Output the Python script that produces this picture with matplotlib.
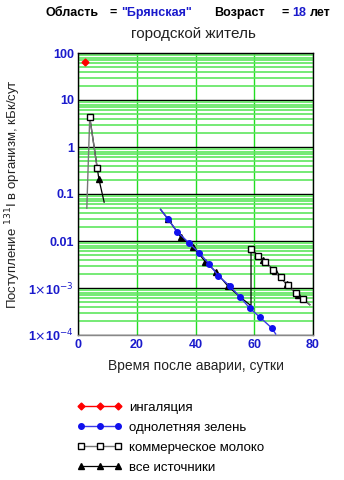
import numpy as np
import matplotlib.pyplot as plt
from matplotlib.ticker import LogLocator, FixedLocator

plt.rcParams['font.family'] = ['Liberation Sans', 'DejaVu Sans']

# inhalation
inh_x = [2.4]
inh_y = [64.0]

# annual greens
veg_x = [28.1, 30.7, 33.8, 37.9, 41.3, 44.7, 47.8, 51.7, 55.1, 58.5, 61.9, 66.0, 67.3]
veg_y = [0.047, 0.029, 0.0158, 0.0089, 0.0056, 0.0032, 0.0018, 0.0011, 6.5e-4, 3.7e-4, 2.4e-4, 1.4e-4, 1.05e-4]

# commercial milk (two pieces, gap = off scale)
milk_x = [3.0, 4.0, 6.5, np.nan, 58.9, 61.2, 63.8, 66.4, 69.0, 71.4, 74.1, 76.6, 78.9]
milk_y = [0.05, 4.3, 0.36, np.nan, 0.0068, 0.0047, 0.0035, 0.0024, 0.0017, 0.00115, 7.9e-4, 5.8e-4, 4.4e-4]

# all sources
all_x = [4.0, 7.1, 8.9, np.nan, 28.1, 30.7, 34.9, 39.1, 43.4, 47.0, 51.0, 55.1, 58.9, 58.9, 62.9, 67.0, 71.0, 75.0, 78.9]
all_y = [4.3, 0.21, 0.067, np.nan, 0.047, 0.029, 0.0123, 0.0076, 0.0036, 0.0022, 0.0011, 6.5e-4, 4.2e-4, 0.0068, 0.0040, 0.0023, 0.0012, 7.0e-4, 4.4e-4]

ytick_vals = [1e-4, 1e-3, 0.01, 0.1, 1, 10, 100]
ytick_labels = [r'1$\times$10$^{-4}$', r'1$\times$10$^{-3}$', '0.01', '0.1', '1', '10', '100']
xtick_vals = [0, 20, 40, 60, 80]

W, H = 344, 480
fig = plt.figure(figsize=(W / 100, H / 100), dpi=100)
ax = fig.add_axes([78 / W, 1 - 335 / H, 235 / W, 282 / H])

ax.set_yscale('log')
ax.set_xlim(0, 80)
ax.set_ylim(1e-4, 100)

green = '#5ee65e'
ax.yaxis.set_minor_locator(LogLocator(base=10, subs=np.arange(2, 10)))
ax.grid(which='minor', axis='y', color=green, lw=1.2)
ax.grid(which='major', axis='y', color='black', lw=1.0)
ax.xaxis.set_major_locator(FixedLocator(xtick_vals))
ax.grid(which='major', axis='x', color='#22dd22', lw=1.0)
ax.set_axisbelow(True)

ax.plot(all_x, all_y, color='black', lw=0.9, marker='^', ms=4, mfc='black', mec='black',
        markevery=[1, 5, 6, 7, 8, 9, 10, 13, 14, 15, 16, 17], label='все источники', zorder=3)
ax.plot(milk_x, milk_y, color='#777777', lw=1.0, marker='s', ms=4, mfc='white', mec='black',
        markevery=[1, 2, 4, 5, 6, 7, 8, 9, 10, 11], label='коммерческое молоко', zorder=4)
ax.plot(veg_x, veg_y, color='#3a3ae8', lw=1.0, marker='o', ms=4, mfc='#1010ee', mec='#1010ee',
        markevery=list(range(1, len(veg_x) - 1)), label='однолетняя зелень', zorder=5)
ax.plot(inh_x, inh_y, color='red', lw=1.0, marker='D', ms=3.5, mfc='red', mec='red',
        label='ингаляция', zorder=6)

ax.set_yticks(ytick_vals)
ax.set_yticklabels(ytick_labels)
ax.tick_params(which='both', length=0)
ax.tick_params(axis='both', labelsize=9, labelcolor='#1a1acc', pad=3)
for lab in ax.get_xticklabels() + ax.get_yticklabels():
    lab.set_fontweight('bold')

for s in ['left', 'top', 'right']:
    ax.spines[s].set_color('black')
ax.spines['bottom'].set_color('#888888')
for s in ax.spines.values():
    s.set_linewidth(1.0)

ax.set_xlabel('Время после аварии, сутки', fontsize=10, color='#222222', labelpad=6)
ax.set_ylabel('Поступление $^{131}$I в организм, кБк/сут', fontsize=9.5, color='#222222', labelpad=4)

# header
hy = 1 - 13 / H
hs = 9
fig.text(45 / W, hy, 'Область', fontsize=hs, fontweight='bold', va='center')
fig.text(110 / W, hy, '=', fontsize=hs, fontweight='bold', va='center')
fig.text(121 / W, hy, '"Брянская"', fontsize=hs, fontweight='bold', color='#1a1acc', va='center')
fig.text(214 / W, hy, 'Возраст', fontsize=hs, fontweight='bold', va='center')
fig.text(281 / W, hy, '=', fontsize=hs, fontweight='bold', va='center')
fig.text(292 / W, hy, '18', fontsize=hs, fontweight='bold', color='#1a1acc', va='center')
fig.text(310 / W, hy, 'лет', fontsize=hs, fontweight='bold', va='center')
fig.text(193 / W, 1 - 34 / H, 'городской житель', fontsize=11, ha='center', va='center', color='#222222')

handles, labels = ax.get_legend_handles_labels()
order = [3, 2, 1, 0]
fig.legend([handles[i] for i in order], [labels[i] for i in order],
           loc='upper left', bbox_to_anchor=(72 / W, 1 - 396 / H), frameon=False,
           numpoints=3, handlelength=3.4, handletextpad=0.5, labelspacing=0.6, fontsize=9.5,
           borderaxespad=0)

fig.savefig('out.png', dpi=100)
